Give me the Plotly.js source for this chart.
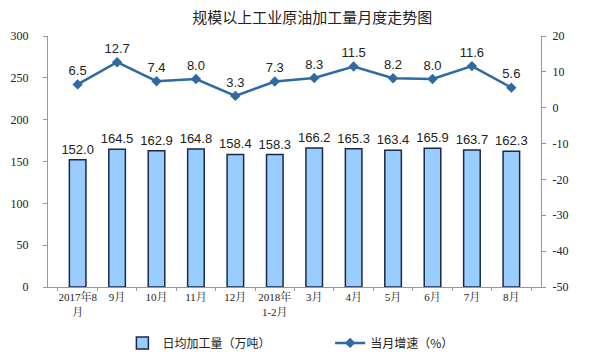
<!DOCTYPE html>
<html><head><meta charset="utf-8">
<script src="https://cdn.plot.ly/plotly-3.0.1.min.js"></script>
<style>body{margin:0;background:#fff}#c{width:597px;height:361px}</style>
</head><body><div id="c"></div>
<script>
const categories = ["2017年8<br>月","9月","10月","11月","12月","2018年<br>1-2月","3月","4月","5月","6月","7月","8月"];
const dailyOutput = [152.0,164.5,162.9,164.8,158.4,158.3,166.2,165.3,163.4,165.9,163.7,162.3];
const growth = [6.5,12.7,7.4,8.0,3.3,7.3,8.3,11.5,8.2,8.0,11.6,5.6];
const leftTicks = [0,50,100,150,200,250,300];
const rightTicks = [-50,-40,-30,-20,-10,0,10,20];

const cjk = 'Noto Sans CJK SC, sans-serif';
const serifNum = 'Liberation Serif, Noto Serif CJK SC, Noto Sans CJK SC, serif';

const traces = [
  {type:'bar', x:categories, y:dailyOutput, name:'日均加工量（万吨）', legend:'legend',
   marker:{color:'#99CCFF', line:{color:'#1b2a44', width:1.5}},
   text:dailyOutput.map(v=>v.toFixed(1)), textposition:'outside', cliponaxis:false, constraintext:'none',
   textfont:{family:'Arial, Liberation Sans, sans-serif', size:13, color:'#222'},
   hoverinfo:'none'},
  {type:'scatter', mode:'lines+markers+text', x:categories, y:growth, yaxis:'y2', name:'当月增速（%）', legend:'legend2',
   line:{color:'#2f6aa3', width:2.5}, marker:{symbol:'diamond', size:8, color:'#2f6aa3'},
   text:growth.map(v=>v.toFixed(1)), textposition:'top center', cliponaxis:false,
   textfont:{family:'Arial, Liberation Sans, sans-serif', size:13, color:'#222'},
   hoverinfo:'none'}
];

const legendBase = {orientation:'h', xanchor:'left', xref:'container', y:0.01, yanchor:'bottom', yref:'container',
  font:{family:cjk, size:12, color:'#222'}, itemwidth:30, bgcolor:'rgba(0,0,0,0)'};

const layout = {
  width:597, height:361, paper_bgcolor:'#fff', plot_bgcolor:'#fff',
  margin:{l:48, r:56, t:36, b:74},
  title:{text:'规模以上工业原油加工量月度走势图', x:0.523, xanchor:'center', y:0.95, yanchor:'middle',
         font:{family:cjk, size:15, color:'#222'}},
  showlegend:true,
  legend:Object.assign({}, legendBase, {x:0.205}),
  legend2:Object.assign({}, legendBase, {x:0.553}),
  bargap:0.58,
  xaxis:{type:'category', showline:true, linecolor:'#999', linewidth:1, ticks:'outside', ticklen:3, tickcolor:'#999',
         tickson:'boundaries', showgrid:false, tickangle:0, automargin:false,
         tickfont:{family:serifNum, size:11, color:'#222'}, zeroline:false},
  yaxis:{range:[0,300], tickvals:leftTicks, ticktext:leftTicks.map(String), showline:true, linecolor:'#999', linewidth:1, automargin:false,
         ticks:'outside', ticklen:4, tickcolor:'#999', showgrid:false, zeroline:false, ticklabelstandoff:12,
         tickfont:{family:serifNum, size:12, color:'#222'}},
  yaxis2:{range:[-50,20], tickvals:rightTicks, ticktext:rightTicks.map(String), overlaying:'y', side:'right', showline:true, linecolor:'#999', linewidth:1,
          ticks:'outside', ticklen:4, tickcolor:'#999', showgrid:false, zeroline:false, automargin:false, ticklabelstandoff:4,
          tickfont:{family:serifNum, size:12, color:'#222'}}
};
Plotly.newPlot('c', traces, layout, {displayModeBar:false, staticPlot:true});
</script></body></html>
